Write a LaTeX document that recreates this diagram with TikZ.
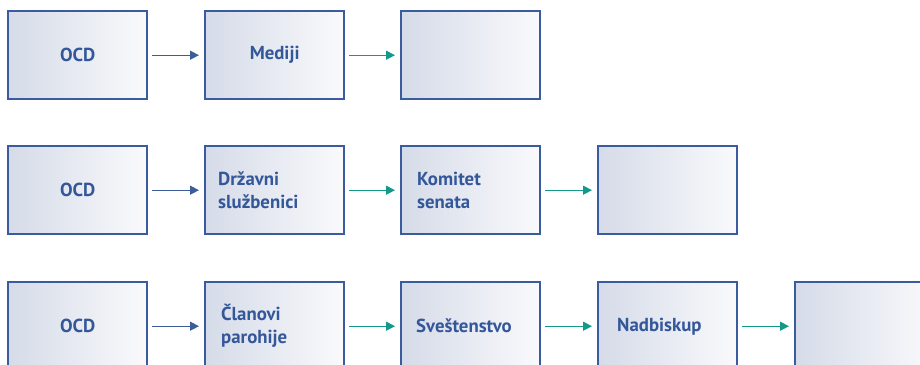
\documentclass[tikz,border=0pt]{standalone}
\usepackage{fontspec}
\setmainfont{PT Sans}
\usetikzlibrary{arrows.meta}
\definecolor{boxline}{HTML}{3A5C9E}
\definecolor{boxleft}{HTML}{D5DBE8}
\definecolor{boxright}{HTML}{FAFAFC}
\definecolor{txtblue}{HTML}{34579A}
\definecolor{arrblue}{HTML}{3D5C9A}
\definecolor{arrteal}{HTML}{12998A}
\tikzset{
  box/.style={draw=boxline, line width=2.4pt, left color=boxleft, right color=boxright,
    minimum width=139pt, minimum height=88pt, inner sep=0pt, anchor=north west},
  lbl/.style={font=\bfseries\fontsize{18.8}{23}\selectfont, text=txtblue, align=left,
    inner sep=0pt, anchor=west},
  flow/.style={line width=1.3pt, -{Triangle[length=9pt,width=9pt]},
    shorten <=4pt, shorten >=5pt},
  flowblue/.style={flow, draw=arrblue, fill=arrblue},
  flowteal/.style={flow, draw=arrteal, fill=arrteal}
}
\begin{document}
\begin{tikzpicture}[x=1pt,y=-1pt]
\useasboundingbox (0,0) rectangle (920,364);

% first chain
\node[box] (a1) at (7,10) {};
\node[box] (a2) at (204,10) {};
\node[box] (a3) at (400,10) {};
\node[lbl, anchor=center] (ta1) at (a1.center) {OCD};
\node[lbl, anchor=center] (ta2) at (a2.center) {Mediji};
\draw[flowblue] (a1) -- (a2);
\draw[flowteal] (a2) -- (a3);

% second chain
\node[box] (b1) at (7,145) {};
\node[box] (b2) at (204,145) {};
\node[box] (b3) at (400,145) {};
\node[box] (b4) at (597,145) {};
\node[lbl, anchor=center] (tb1) at (b1.center) {OCD};
\node[lbl] (tb2) at ([xshift=14pt]b2.west) {Državni\\službenici};
\node[lbl] (tb3) at ([xshift=17pt]b3.west) {Komitet\\senata};
\draw[flowblue] (b1) -- (b2);
\draw[flowteal] (b2) -- (b3);
\draw[flowteal] (b3) -- (b4);

% third chain
\node[box] (c1) at (7,281) {};
\node[box] (c2) at (204,281) {};
\node[box] (c3) at (400,281) {};
\node[box] (c4) at (597,281) {};
\node[box] (c5) at (794,281) {};
\node[lbl, anchor=center] (tc1) at (c1.center) {OCD};
\node[lbl] (tc2) at ([xshift=17pt]c2.west) {Članovi\\parohije};
\node[lbl] (tc3) at ([xshift=16pt]c3.west) {Sveštenstvo};
\node[lbl] (tc4) at ([xshift=20pt]c4.west) {Nadbiskup};
\draw[flowblue] (c1) -- (c2);
\draw[flowteal] (c2) -- (c3);
\draw[flowteal] (c3) -- (c4);
\draw[flowteal] (c4) -- (c5);
\end{tikzpicture}
\end{document}
